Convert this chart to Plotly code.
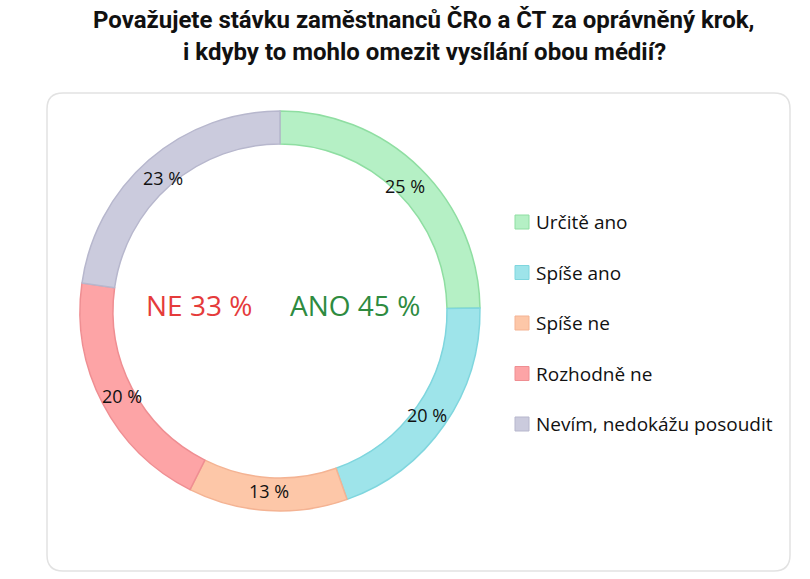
import math
import plotly.graph_objects as go

categories = ["Určitě ano", "Spíše ano", "Spíše ne", "Rozhodně ne", "Nevím, nedokážu posoudit"]
values = [25, 20, 13, 20, 23]
fill_colors = ["#b5f0c5", "#9ee4ea", "#fdc7a8", "#fda4a6", "#cbcbdd"]
line_colors = ["#8fdea2", "#7fd6de", "#f4b393", "#ef8e92", "#b7b7cd"]
center_texts = ["NE 33 %", "ANO 45 %"]
center_colors = ["#e53b3b", "#2e8b3f"]
title_lines = ["Považujete stávku zaměstnanců ČRo a ČT za oprávněný krok,",
               "i kdyby to mohlo omezit vysílání obou médií?"]

W, H = 810, 579

def px(x):
    return x / W

def py(y):
    return 1 - y / H

CX, CY, R_OUT = 280, 311, 200
HOLE = 0.835

fig = go.Figure()
fig.add_trace(go.Pie(
    labels=categories,
    values=values,
    sort=False,
    direction="clockwise",
    rotation=0,
    hole=HOLE,
    marker=dict(colors=fill_colors, line=dict(color=line_colors, width=1.5)),
    textinfo="none",
    showlegend=False,
    domain=dict(x=[px(CX - R_OUT), px(CX + R_OUT)], y=[py(CY + R_OUT), py(CY - R_OUT)]),
    hoverinfo="label+value",
))

annotations = []
# slice percentage labels at the mid-angle of each slice (clockwise from top)
total = sum(values)
cum = 0
r_mid = R_OUT * (1 + HOLE) / 2 - 5
for v in values:
    ang = (cum + v / 2) / total * 2 * math.pi
    cum += v
    lx = CX + r_mid * math.sin(ang)
    ly = CY - r_mid * math.cos(ang) + 2
    annotations.append(dict(text=f"{v} %", x=px(lx), y=py(ly), xref="paper", yref="paper",
                            showarrow=False, xanchor="center", yanchor="middle",
                            font=dict(family="Open Sans", size=18, color="#111111")))

# rounded border box
x0, x1, y0, y1, r = 47, 790, 93, 571, 16
path = (f"M {px(x0 + r)} {py(y0)} L {px(x1 - r)} {py(y0)} "
        f"Q {px(x1)} {py(y0)} {px(x1)} {py(y0 + r)} "
        f"L {px(x1)} {py(y1 - r)} Q {px(x1)} {py(y1)} {px(x1 - r)} {py(y1)} "
        f"L {px(x0 + r)} {py(y1)} Q {px(x0)} {py(y1)} {px(x0)} {py(y1 - r)} "
        f"L {px(x0)} {py(y0 + r)} Q {px(x0)} {py(y0)} {px(x0 + r)} {py(y0)} Z")
shapes = [dict(type="path", xref="paper", yref="paper", path=path,
               line=dict(color="#e2e2e2", width=1.5), layer="below")]

# title
for i, t in enumerate(title_lines):
    annotations.append(dict(text=f"<b>{t}</b>", x=px(424), y=py(20 + 32 * i),
                            xref="paper", yref="paper", showarrow=False,
                            xanchor="center", yanchor="middle",
                            font=dict(family="Roboto", size=24, color="#111111")))
# centre summary
for txt, col, cx in zip(center_texts, center_colors, [199, 355]):
    annotations.append(dict(text=txt, x=px(cx), y=py(305), xref="paper", yref="paper",
                            showarrow=False, xanchor="center", yanchor="middle",
                            font=dict(family="Open Sans", size=28, color=col)))
# legend
for i, (cat, fc, lc) in enumerate(zip(categories, fill_colors, line_colors)):
    yc = 222 + 50.5 * i
    shapes.append(dict(type="rect", xref="paper", yref="paper",
                       x0=px(515), x1=px(529), y0=py(yc + 7), y1=py(yc - 7),
                       fillcolor=fc, line=dict(color=lc, width=1)))
    annotations.append(dict(text=cat, x=px(534), y=py(yc), xref="paper", yref="paper",
                            showarrow=False, xanchor="left", yanchor="middle",
                            font=dict(family="Open Sans", size=19, color="#111111")))

fig.update_layout(
    width=W, height=H,
    margin=dict(l=0, r=0, t=0, b=0),
    paper_bgcolor="white", plot_bgcolor="white",
    shapes=shapes, annotations=annotations,
)
fig.write_html("out.html")
